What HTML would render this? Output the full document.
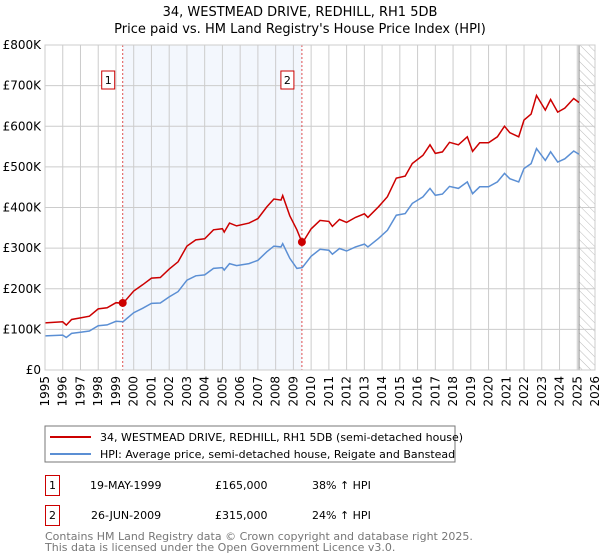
<!DOCTYPE html>
<html><head><meta charset="utf-8"><style>
body{margin:0;background:#fff;font-family:"Liberation Sans","DejaVu Sans",sans-serif;}
svg{display:block}
</style></head><body>
<svg id="c" width="600" height="560" font-family="DejaVu Sans, Liberation Sans, sans-serif">
<text x="300" y="16" text-anchor="middle" font-size="13">34, WESTMEAD DRIVE, REDHILL, RH1 5DB</text>
<text x="300" y="33" text-anchor="middle" font-size="13">Price paid vs. HM Land Registry's House Price Index (HPI)</text>
<defs><pattern id="hatch" width="6" height="6" patternUnits="userSpaceOnUse" patternTransform="rotate(-45)"><line x1="0" y1="0" x2="0" y2="6" stroke="#bbb" stroke-width="1"/></pattern></defs>
<g id="plot"></g>
<rect x="45" y="426" width="410" height="36" fill="#fff" stroke="#777"/>
<line x1="50" y1="437" x2="91" y2="437" stroke="#cc0000" stroke-width="2"/>
<text x="100" y="441" font-size="11">34, WESTMEAD DRIVE, REDHILL, RH1 5DB (semi-detached house)</text>
<line x1="50" y1="454" x2="91" y2="454" stroke="#5b8fd4" stroke-width="2"/>
<text x="100" y="458" font-size="11">HPI: Average price, semi-detached house, Reigate and Banstead</text>
<g font-size="11">
<rect x="45.5" y="475.5" width="14" height="20" fill="#fff" stroke="#cc0000"/>
<text x="52.5" y="489" text-anchor="middle">1</text>
<text x="90" y="489">19-MAY-1999</text>
<text x="215" y="489">£165,000</text>
<text x="312" y="489">38% ↑ HPI</text>
<rect x="45.5" y="505.5" width="14" height="20" fill="#fff" stroke="#cc0000"/>
<text x="52.5" y="519" text-anchor="middle">2</text>
<text x="91" y="519">26-JUN-2009</text>
<text x="215" y="519">£315,000</text>
<text x="312" y="519">24% ↑ HPI</text>
</g>
<text x="45" y="540" font-size="11" fill="#777">Contains HM Land Registry data © Crown copyright and database right 2025.</text>
<text x="45" y="551" font-size="11" fill="#777">This data is licensed under the Open Government Licence v3.0.</text>
</svg>
<script>
const hpiYears=[1995,1996,1996.2,1996.5,1997,1997.5,1998,1998.5,1999,1999.4,2000,2000.5,2001,2001.5,2002,2002.5,2003,2003.5,2004,2004.5,2005,2005.1,2005.4,2005.8,2006.5,2007,2007.5,2007.9,2008.3,2008.4,2008.8,2009.2,2009.5,2010,2010.5,2011,2011.2,2011.6,2012,2012.5,2013,2013.2,2013.8,2014.3,2014.8,2015.3,2015.7,2016.3,2016.7,2017,2017.4,2017.8,2018.3,2018.8,2019.1,2019.5,2020,2020.5,2020.9,2021.2,2021.7,2022,2022.4,2022.7,2023.2,2023.5,2023.9,2024.3,2024.8,2025.1];
const hpiValues=[84,86,80,90,93,96,109,111,120,119,141,152,164,165,180,193,221,232,234,250,252,246,262,257,262,270,291,305,303,311,275,250,252,280,297,295,285,299,293,303,310,303,324,344,381,385,410,426,447,430,433,452,447,463,434,451,451,463,484,471,463,496,508,545,516,537,512,520,539,531];
const saleYears=[1999.38,2009.48];
const salePrices=[165,315];
const saleRatios=[1.38,1.24];
const yTicks=[0,100,200,300,400,500,600,700,800];
const yTickLabels=["£0","£100K","£200K","£300K","£400K","£500K","£600K","£700K","£800K"];
const xTicks=[1995,1996,1997,1998,1999,2000,2001,2002,2003,2004,2005,2006,2007,2008,2009,2010,2011,2012,2013,2014,2015,2016,2017,2018,2019,2020,2021,2022,2023,2024,2025,2026];
const dataEnd=2025.1;
const NS="http://www.w3.org/2000/svg";
const X0=45,X1=595,Y0=370,Y1=45;
const sx=y=>X0+(y-1995)/(2026-1995)*(X1-X0);
const sy=v=>Y0-v/800*(Y0-Y1);
const g=document.getElementById('plot');
function mk(t,a,p){const e=document.createElementNS(NS,t);for(const k in a)e.setAttribute(k,a[k]);(p||g).appendChild(e);return e;}
let e;
e=mk('rect',{x:sx(saleYears[0]),y:Y1,width:sx(saleYears[1])-sx(saleYears[0]),height:Y0-Y1,fill:'#eef3fc',opacity:0.7});


e=mk('rect',{x:sx(dataEnd),y:Y1,width:X1-sx(dataEnd),height:Y0-Y1,fill:'url(#hatch)'});


xTicks.forEach(t=>{
 e=mk('line',{x1:sx(t),x2:sx(t),y1:Y1,y2:Y0,stroke:'#ccc','stroke-width':1});
 
 
 e=mk('text',{x:0,y:0,'font-size':12,'text-anchor':'end',transform:`translate(${sx(t)+4},${Y0+6}) rotate(-90)`});
 e.textContent=t;
 
 
});
yTicks.forEach((t,i)=>{
 e=mk('line',{x1:X0,x2:X1,y1:sy(t),y2:sy(t),stroke:'#ccc','stroke-width':1});
 
 
 e=mk('text',{x:X0-4,y:sy(t)+4,'font-size':12,'text-anchor':'end'});
 e.textContent=yTickLabels[i];
 
 
});
e=mk('line',{x1:sx(dataEnd),x2:sx(dataEnd),y1:Y1,y2:Y0,stroke:'#888','stroke-width':1});


saleYears.forEach((s,i)=>{
 e=mk('line',{x1:sx(s),x2:sx(s),y1:Y1,y2:Y0,stroke:'#e05050','stroke-dasharray':'2,2','stroke-width':1});
 
 
});
const hp=hpiYears.map((y,i)=>`${sx(y).toFixed(1)},${sy(hpiValues[i]).toFixed(1)}`).join(' ');
e=mk('polyline',{points:hp,fill:'none',stroke:'#5b8fd4','stroke-width':1.5});


const rp=hpiYears.map((y,i)=>{const r=y<saleYears[1]?saleRatios[0]:saleRatios[1];return `${sx(y).toFixed(1)},${sy(hpiValues[i]*r).toFixed(1)}`;}).join(' ');
e=mk('polyline',{points:rp,fill:'none',stroke:'#cc0000','stroke-width':1.5});


saleYears.forEach((s,i)=>{
 e=mk('circle',{cx:sx(s),cy:sy(salePrices[i]),r:4,fill:'#cc0000'});
 
 
 const bx=sx(s)-11;
 e=mk('rect',{x:bx-10,y:71,width:13,height:18,fill:'#fff',stroke:'#cc0000'});
 
 
 e=mk('text',{x:bx-3.5,y:84,'font-size':11,'text-anchor':'middle'});
 e.textContent=String(i+1);
 
 
});
e=mk('rect',{x:X0,y:Y1,width:X1-X0,height:Y0-Y1,fill:'none',stroke:'#ccc'});


</script>
</body></html>
